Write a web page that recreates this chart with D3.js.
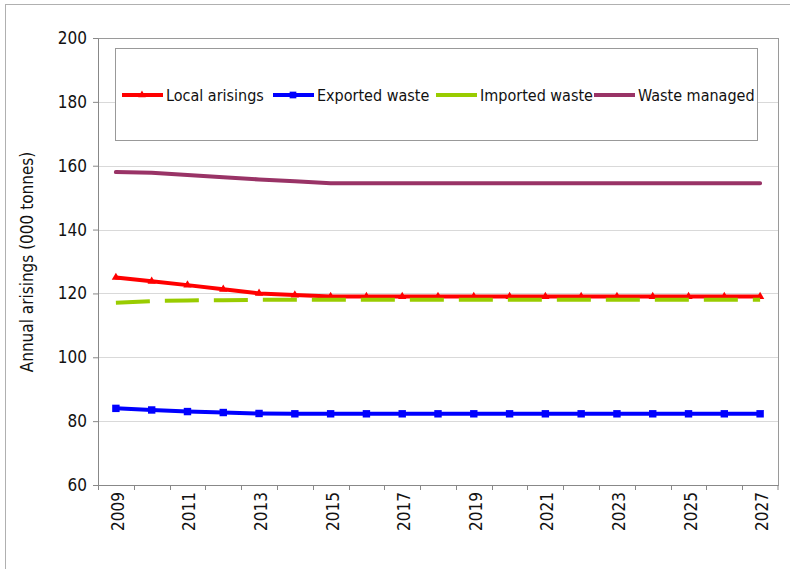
<!DOCTYPE html>
<html>
<head>
<meta charset="utf-8">
<script src="https://cdn.jsdelivr.net/npm/d3@7"></script>
<style>
  body { margin: 0; background: #fff; }
  svg text { font-family: "DejaVu Sans Condensed", "DejaVu Sans", sans-serif; fill: #111; }
</style>
</head>
<body>
<div id="chart"></div>
<script>
// years on the category axis
const years = d3.range(2009, 2028)
const yTicks = [60, 80, 100, 120, 140, 160, 180, 200]

// series values (000 tonnes)
const localArisings = [125, 123.8, 122.6, 121.3, 120, 119.5, 119, 119, 119, 119, 119, 119, 119, 119, 119, 119, 119, 119, 119]
const exportedWaste = [84, 83.5, 83, 82.7, 82.4, 82.3, 82.3, 82.3, 82.3, 82.3, 82.3, 82.3, 82.3, 82.3, 82.3, 82.3, 82.3, 82.3, 82.3]
const importedWaste = [117.1, 117.6, 117.8, 117.9, 118, 118, 118, 118, 118, 118, 118, 118, 118, 118, 118, 118, 118, 118, 118]
const wasteManaged = [158, 157.8, 157.1, 156.4, 155.7, 155.1, 154.5, 154.5, 154.5, 154.5, 154.5, 154.5, 154.5, 154.5, 154.5, 154.5, 154.5, 154.5, 154.5]

const series = [
  {name: "Local arisings", values: localArisings, color: "#ff0000", marker: "triangle", dash: null},
  {name: "Exported waste", values: exportedWaste, color: "#0000ff", marker: "square", dash: null},
  {name: "Imported waste", values: importedWaste, color: "#99cc00", marker: null, dash: "34,15"},
  {name: "Waste managed", values: wasteManaged, color: "#993366", marker: null, dash: null}
]

const W = 790, H = 569
const margin = {top: 38, right: 12, bottom: 84, left: 98}
const width = W - margin.left - margin.right,
    height = H - margin.top - margin.bottom

const svg = d3.select("#chart")
  .append("svg")
    .attr("width", W)
    .attr("height", H)

// outer chart frame
svg.append("rect")
  .attr("x", 5.5).attr("y", 4.5)
  .attr("width", W + 20).attr("height", H + 20)
  .attr("fill", "none")
  .attr("stroke", "#b0b0b0")

const g = svg.append("g")
  .attr("transform", "translate(" + margin.left + "," + margin.top + ")")

const x = d3.scaleBand()
  .domain(years)
  .range([0, width])

const y = d3.scaleLinear()
  .domain([60, 200])
  .range([height, 0])

const cx = (d) => x(d) + x.bandwidth() / 2

// gridlines
g.append("g")
  .selectAll("line")
  .data(yTicks.slice(1, -1))
  .enter().append("line")
    .attr("x1", 0).attr("x2", width)
    .attr("y1", (d) => Math.round(y(d)) + 0.5)
    .attr("y2", (d) => Math.round(y(d)) + 0.5)
    .attr("stroke", "#d9d9d9")

// plot frame
g.append("rect")
  .attr("x", 0.5).attr("y", 0.5)
  .attr("width", width).attr("height", height)
  .attr("fill", "none")
  .attr("stroke", "#9a9a9a")

// y axis
const yAxis = g.append("g")
  .call(d3.axisLeft(y).tickValues(yTicks).tickSize(5).tickSizeOuter(0).tickPadding(6))
yAxis.select(".domain").attr("stroke", "#888")
yAxis.selectAll(".tick line").attr("stroke", "#888")
yAxis.selectAll("text").style("font-size", "17px").attr("fill", "#111")

// x axis: ticks between categories, labels every other year
const xAxis = g.append("g")
  .attr("transform", "translate(0," + height + ")")
xAxis.append("line")
  .attr("x1", 0).attr("x2", width)
  .attr("y1", 0.5).attr("y2", 0.5)
  .attr("stroke", "#888")
xAxis.selectAll(".xtick")
  .data(years.concat([2028]))
  .enter().append("line")
    .attr("class", "xtick")
    .attr("x1", (d) => d === 2028 ? width : Math.round(x(d)) + 0.5)
    .attr("x2", (d) => d === 2028 ? width : Math.round(x(d)) + 0.5)
    .attr("y1", 0).attr("y2", 5)
    .attr("stroke", "#888")
xAxis.selectAll(".xlabel")
  .data(years.filter((d) => d % 2 === 1))
  .enter().append("text")
    .attr("class", "xlabel")
    .attr("transform", (d) => "translate(" + (cx(d) + 8) + ",7) rotate(-90)")
    .attr("text-anchor", "end")
    .style("font-size", "17px")
    .text((d) => d)

// y axis title
svg.append("text")
  .attr("transform", "translate(33,262) rotate(-90)")
  .attr("text-anchor", "middle")
  .style("font-size", "17px")
  .text("Annual arisings (000 tonnes)")

// lines
const line = d3.line()
  .x((d, i) => cx(years[i]))
  .y((d) => y(d))

const lines = g.append("g")
series.forEach((s) => {
  lines.append("path")
    .datum(s.values)
    .attr("fill", "none")
    .attr("stroke", s.color)
    .attr("stroke-width", 4)
    .attr("stroke-linejoin", "round")
    .attr("stroke-linecap", s.dash ? "butt" : "round")
    .attr("stroke-dasharray", s.dash)
    .attr("d", line)

  if (s.marker) {
    lines.append("g")
      .selectAll("path")
      .data(s.values)
      .enter().append("path")
        .attr("transform", (d, i) => "translate(" + cx(years[i]) + "," + y(d) + ")")
        .attr("d", d3.symbol().type(s.marker === "square" ? d3.symbolSquare : d3.symbolTriangle).size(s.marker === "square" ? 55 : 30))
        .attr("fill", s.color)
  }
})

// legend
const legend = svg.append("g")
legend.append("rect")
  .attr("x", 115.5).attr("y", 48.5)
  .attr("width", 642).attr("height", 92)
  .attr("fill", "#fff")
  .attr("stroke", "#999")

const legendX = [122, 273, 436, 594]
series.forEach((s, i) => {
  const lg = legend.append("g").attr("transform", "translate(" + legendX[i] + ",95)")
  lg.append("line")
    .attr("x1", 0).attr("x2", 41)
    .attr("stroke", s.color)
    .attr("stroke-width", 4)
  if (s.marker) {
    lg.append("path")
      .attr("transform", "translate(20,0)")
      .attr("d", d3.symbol().type(s.marker === "square" ? d3.symbolSquare : d3.symbolTriangle).size(s.marker === "square" ? 45 : 25))
      .attr("fill", s.color)
  }
  lg.append("text")
    .attr("x", 44)
    .attr("y", 6)
    .style("font-size", "16px")
    .text(s.name)
})
</script>
</body>
</html>
